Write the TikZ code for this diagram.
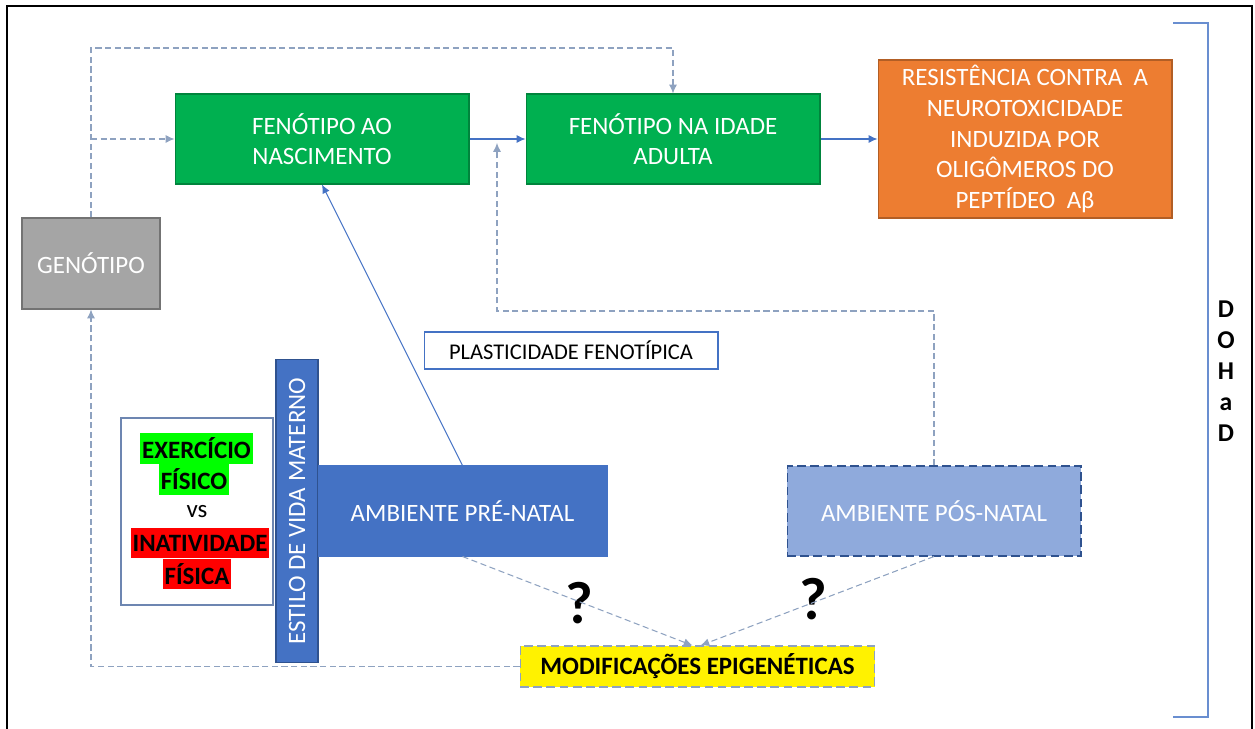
\documentclass[tikz,border=0pt]{standalone}
\usepackage{fontspec}
\setmainfont{Carlito}
\usepackage{tikz}
\usetikzlibrary{arrows.meta}
\definecolor{boxgreen}{HTML}{00B050}
\definecolor{boxorange}{HTML}{ED7D31}
\definecolor{boxgray}{HTML}{A5A5A5}
\definecolor{boxblue}{HTML}{4472C4}
\definecolor{boxlight}{HTML}{8FAADC}
\definecolor{edgeblue}{HTML}{2F528F}
\definecolor{linkblue}{HTML}{4472C4}
\definecolor{dashgray}{HTML}{8EA2C0}
\definecolor{hlgreen}{HTML}{00FF00}
\definecolor{hlred}{HTML}{FF0000}
\tikzset{
  >={Latex[length=5pt,width=4.5pt]},
}
\tikzstyle{every node}=[font=\fontsize{14.2}{17}\selectfont]
\tikzstyle{box}=[rectangle, inner sep=0pt, minimum width=5.88cm, minimum height=1.8cm, align=center, text=white, line width=0.6pt]
\tikzstyle{link}=[->, draw=linkblue, line width=0.6pt]
\tikzstyle{dashlink}=[->, draw=dashgray, line width=0.6pt, dash pattern=on 3.5pt off 2pt]
\tikzstyle{highlight}=[inner xsep=1pt, inner ysep=0pt, minimum height=0.62cm, text=black, font=\fontsize{14.2}{17}\selectfont\bfseries]
\tikzstyle{query}=[font=\fontsize{34}{38}\selectfont\bfseries]

\begin{document}
\begin{tikzpicture}[x=0.02cm, y=-0.02cm]
    \useasboundingbox (0,0) rectangle (1255,729);
    \draw[line width=1.1pt] (7,729) -- (7,6) -- (1252,6) -- (1252,729);
    % caixas
    \node[box, fill=boxgray, draw=boxgray!70!black, minimum width=2.76cm, minimum height=1.82cm] (geno) at (91,263.5) {GENÓTIPO};
    \node[box, fill=boxgreen, draw=boxgreen!75!black] (nasc) at (322,139) {FENÓTIPO AO\\NASCIMENTO};
    \node[box, fill=boxgreen, draw=boxgreen!75!black] (adult) at (673,139) {FENÓTIPO NA IDADE\\ADULTA};
    \node[box, fill=boxorange, draw=boxorange!75!black, minimum height=3.16cm, font=\fontsize{14.2}{17.4}\selectfont] (res) at (1025,139)
      {RESISTÊNCIA CONTRA\ \ A\\NEUROTOXICIDADE\\INDUZIDA POR\\OLIGÔMEROS DO\\PEPTÍDEO\ \ Aβ};
    \node[box, draw=linkblue, text=black, minimum height=0.74cm, font=\fontsize{12.8}{15}\selectfont] (plast) at (571,350.5) {PLASTICIDADE FENOTÍPICA};
    \node[box, draw=edgeblue!70, fill=white, minimum width=3.04cm, minimum height=3.74cm] (life) at (197,511.5) {};
    \node[box, fill=boxblue, draw=edgeblue, rotate=90, minimum width=6.08cm, minimum height=0.84cm] (estilo) at (297,511) {ESTILO DE VIDA MATERNO};
    \node[box, fill=boxblue, draw=boxblue, minimum width=5.78cm] (pre) at (462.5,511) {AMBIENTE PRÉ-NATAL};
    \node[box, fill=boxlight, draw=edgeblue, dash pattern=on 5pt off 2.5pt] (pos) at (934,511) {AMBIENTE PÓS-NATAL};
    \node[box, fill=yellow, draw=dashgray, dash pattern=on 5pt off 2.5pt, text=black, minimum width=7.1cm, minimum height=0.82cm,
      font=\fontsize{14.2}{17}\selectfont\bfseries] (epi) at (697.5,666.5) {MODIFICAÇÕES EPIGENÉTICAS};
    % exercicio vs inatividade
    \node[highlight, fill=hlgreen] (ex1) at (196.5,448.5) {EXERCÍCIO};
    \node[highlight, fill=hlgreen] (ex2) at (194,479.5) {FÍSICO};
    \node (vs) at (197,512) {vs};
    \node[highlight, fill=hlred] (in1) at (200,543) {INATIVIDADE};
    \node[highlight, fill=hlred] (in2) at (197,574) {FÍSICA};
    % DOHaD
    \draw[draw=linkblue!80, line width=0.6pt] (1173,23) -- (1208,23) -- (1208,717) -- (1173,717);
    \node[font=\fontsize{14.6}{17.6}\selectfont\bfseries, align=center] (dohad) at (1226,371) {D\\O\\H\\a\\D};
    \node[query] (q1) at (579,603) {?};
    \node[query] (q2) at (813,599) {?};
    % ligacoes
    \coordinate (top) at (0,48);
    \coordinate (turn) at (497,311);
    \coordinate (join) at (497,143);
    \draw[dashlink] (geno.north) -- (geno.north |- top) -| (adult.north);
    \draw[dashlink] (geno.north |- nasc.west) -- (nasc.west);
    \draw[link] (nasc.east) -- (adult.west);
    \draw[link] (adult.east) -- (res.west);
    \draw[link] (pre.north) -- (nasc.south);
    \draw[dashlink] (pos.north) |- (turn) -- (join);
    \draw[dashlink] (pre.south) -- ([xshift=-0.1cm]epi.north);
    \draw[dashlink] (pos.south) -- ([xshift=0.06cm]epi.north);
    \draw[dashlink] (epi.west) -| (geno.south);
\end{tikzpicture}
\end{document}
